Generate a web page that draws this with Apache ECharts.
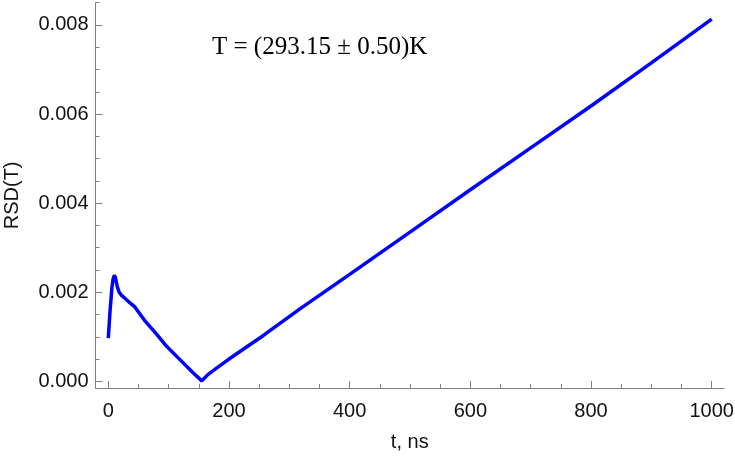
<!DOCTYPE html>
<html>
<head>
<meta charset="utf-8">
<script src="https://cdn.jsdelivr.net/npm/echarts@6/dist/echarts.min.js"></script>
<style>
  html, body { margin: 0; padding: 0; background: #fff; }
  #main { width: 735px; height: 459px; }
</style>
</head>
<body>
<div id="main"></div>
<script>
// 数据：时间 (ns) 与 RSD(T)
var tValues = [0, 3, 6, 8, 10, 12, 15, 18, 22, 28, 36, 44, 60, 80, 97, 120, 140, 155,
               165, 180, 200, 257, 317, 400, 500, 600, 700, 800, 900, 1000];
var rsdValues = [0.00097, 0.0016, 0.0021, 0.0023, 0.00238, 0.00232, 0.00212, 0.002, 0.00193, 0.00186,
                 0.00176, 0.00167, 0.00137, 0.00106, 0.00078, 0.00047, 0.0002, 0.00001,
                 0.00015, 0.0003, 0.0005, 0.00103, 0.00162, 0.0024, 0.00335, 0.0043, 0.00524,
                 0.00618, 0.00715, 0.00813];

// 刻度
var xMajorTicks = [0, 200, 400, 600, 800, 1000];
var xMinorTicks = [0, 50, 100, 150, 200, 250, 300, 350, 400, 450, 500, 550, 600, 650, 700, 750, 800, 850, 900, 950, 1000];
var yMajorTicks = [0, 0.002, 0.004, 0.006, 0.008];
var yMinorTicks = [0, 0.0005, 0.001, 0.0015, 0.002, 0.0025, 0.003, 0.0035, 0.004, 0.0045, 0.005,
                   0.0055, 0.006, 0.0065, 0.007, 0.0075, 0.008, 0.0085];

var annotation = 'T = (293.15 ± 0.50)K';

var chart = echarts.init(document.getElementById('main'));

var points = tValues.map(function (t, i) { return [t, rsdValues[i]]; });

var axisColor = '#808080';
var labelFont = { color: '#111', fontFamily: 'Liberation Sans, Arial, sans-serif', fontSize: 20 };

var option = {
    animation: false,
    grid: { left: 95.5, right: 11, top: 2.7, bottom: 71, containLabel: false, outerBoundsMode: 'none' },
    xAxis: [
        {
            type: 'value',
            min: -21.2,
            max: 1020.4,
            name: 't, ns',
            nameLocation: 'middle',
            nameGap: 44,
            nameTextStyle: labelFont,
            axisLine: { show: true, onZero: false, lineStyle: { color: axisColor, width: 1 } },
            axisTick: { show: true, inside: true, length: 7, customValues: xMajorTicks, lineStyle: { color: axisColor } },
            axisLabel: Object.assign({
                customValues: xMajorTicks,
                margin: 13,
                formatter: function (v) { return String(v); }
            }, labelFont),
            splitLine: { show: false }
        },
        {
            // 次刻度
            type: 'value',
            position: 'bottom',
            min: -21.2,
            max: 1020.4,
            axisLine: { show: false, onZero: false },
            axisTick: { show: true, inside: true, length: 4, customValues: xMinorTicks, lineStyle: { color: axisColor } },
            axisLabel: { show: false },
            splitLine: { show: false }
        }
    ],
    yAxis: [
        {
            type: 'value',
            min: -0.00015,
            max: 0.0085,
            name: 'RSD(T)',
            nameLocation: 'middle',
            nameGap: 73,
            nameTextStyle: labelFont,
            axisLine: { show: true, onZero: false, lineStyle: { color: axisColor, width: 1 } },
            axisTick: { show: true, inside: true, length: 7, customValues: yMajorTicks, lineStyle: { color: axisColor } },
            axisLabel: Object.assign({
                customValues: yMajorTicks,
                margin: 7,
                formatter: function (v) { return v.toFixed(3); }
            }, labelFont),
            splitLine: { show: false }
        },
        {
            type: 'value',
            position: 'left',
            min: -0.00015,
            max: 0.0085,
            axisLine: { show: false, onZero: false },
            axisTick: { show: true, inside: true, length: 4, customValues: yMinorTicks, lineStyle: { color: axisColor } },
            axisLabel: { show: false },
            splitLine: { show: false }
        }
    ],
    graphic: [
        {
            type: 'text',
            left: 212,
            top: 35,
            style: {
                text: annotation,
                fill: '#000',
                font: '25px "Liberation Serif", "Times New Roman", serif'
            }
        }
    ],
    series: [
        {
            type: 'line',
            xAxisIndex: 0,
            yAxisIndex: 0,
            data: points,
            showSymbol: false,
            smooth: false,
            lineStyle: { color: '#0000ff', width: 3.5 },
            itemStyle: { color: '#0000ff' }
        }
    ]
};

chart.setOption(option);
</script>
</body>
</html>
